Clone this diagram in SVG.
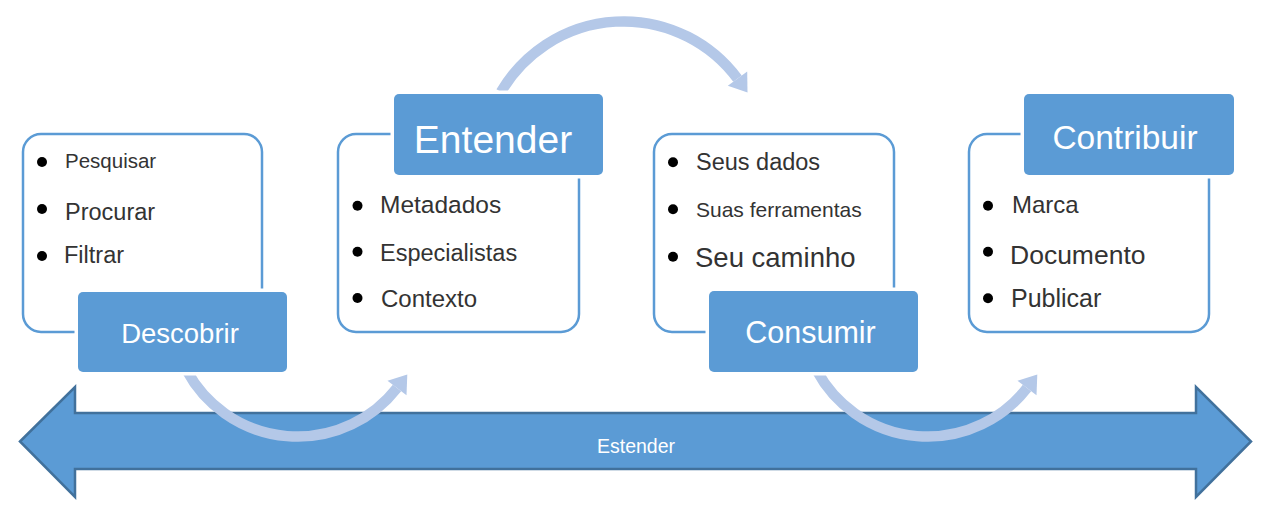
<svg xmlns="http://www.w3.org/2000/svg" width="1270" height="515" viewBox="0 0 1270 515">
<style>
.frame{fill:#fff;stroke:#5b9bd5;stroke-width:2.5}
.label{fill:#5b9bd5;stroke:#fff;stroke-width:7;paint-order:stroke}
.title{font-family:"Liberation Sans",Arial,sans-serif;fill:#fff;text-anchor:middle}
.item{font-family:"Liberation Sans",Arial,sans-serif;fill:#333}
.bullet{fill:#000}
.arc{fill:none;stroke:#b4c8e8;stroke-width:10.5}
.head{fill:#b4c8e8}
</style>
<rect width="1270" height="515" fill="#fff"/>
<g id="estender">
<polygon points="20,441.5 75,387 75,413 1196,413 1196,387 1251,441.5 1196,497 1196,469 75,469 75,497" fill="#5b9bd5" stroke="#41719c" stroke-width="2.5" stroke-linejoin="miter"/>
<text class="title" x="636" y="452.5" font-size="19.5">Estender</text>
</g>
<g id="connectors">
<path class="arc" d="M 186.5 370 A 126 126 0 0 0 397 388"/>
<polygon class="head" points="407.3,374.5 406.5,395.3 387.5,380.7"/>
<path class="arc" d="M 501 92 A 141.8 141.8 0 0 1 737.5 78.7"/>
<polygon class="head" points="747.5,92.4 747.2,71.6 727.8,85.8"/>
<path class="arc" d="M 816.5 370 A 126 126 0 0 0 1027 388"/>
<polygon class="head" points="1037.3,374.5 1036.5,395.3 1017.5,380.7"/>
</g>
<g id="descobrir">
<rect class="frame" x="23" y="134" width="239" height="198" rx="18"/>
<circle class="bullet" cx="42" cy="162" r="5"/>
<circle class="bullet" cx="42" cy="209" r="5"/>
<circle class="bullet" cx="42" cy="256" r="5"/>
<text class="item" x="65" y="167.7" font-size="20.5">Pesquisar</text>
<text class="item" x="65" y="220" font-size="23.5">Procurar</text>
<text class="item" x="64" y="262.7" font-size="23.5">Filtrar</text>
<rect class="label" x="78" y="292" width="209" height="80" rx="5"/>
<text class="title" x="180" y="343" font-size="27.5">Descobrir</text>
</g>
<g id="entender">
<rect class="frame" x="338" y="134" width="241" height="198" rx="18"/>
<circle class="bullet" cx="357.5" cy="205.7" r="5"/>
<circle class="bullet" cx="357.5" cy="251.7" r="5"/>
<circle class="bullet" cx="357.5" cy="298" r="5"/>
<text class="item" x="380" y="213" font-size="24.5">Metadados</text>
<text class="item" x="380" y="260.7" font-size="23.5">Especialistas</text>
<text class="item" x="381" y="307" font-size="24">Contexto</text>
<rect class="label" x="394" y="94" width="209" height="81" rx="5"/>
<text class="title" x="493" y="153" font-size="39">Entender</text>
</g>
<g id="consumir">
<rect class="frame" x="654" y="134" width="240" height="198" rx="18"/>
<circle class="bullet" cx="673" cy="162.3" r="5"/>
<circle class="bullet" cx="673" cy="209.3" r="5"/>
<circle class="bullet" cx="673" cy="256.7" r="5"/>
<text class="item" x="696" y="170" font-size="23.5">Seus dados</text>
<text class="item" x="696" y="217.3" font-size="21">Suas ferramentas</text>
<text class="item" x="695" y="266.7" font-size="27.5">Seu caminho</text>
<rect class="label" x="709" y="291" width="209" height="81" rx="5"/>
<text class="title" x="810.5" y="343" font-size="30.5">Consumir</text>
</g>
<g id="contribuir">
<rect class="frame" x="969" y="134" width="240" height="198" rx="18"/>
<circle class="bullet" cx="988" cy="205.7" r="5"/>
<circle class="bullet" cx="988" cy="251.7" r="5"/>
<circle class="bullet" cx="988" cy="298.3" r="5"/>
<text class="item" x="1012" y="212.7" font-size="24">Marca</text>
<text class="item" x="1010" y="264.3" font-size="26.5">Documento</text>
<text class="item" x="1011" y="307.3" font-size="25">Publicar</text>
<rect class="label" x="1024" y="94" width="210" height="81" rx="5"/>
<text class="title" x="1125" y="149" font-size="33.5">Contribuir</text>
</g>
</svg>
